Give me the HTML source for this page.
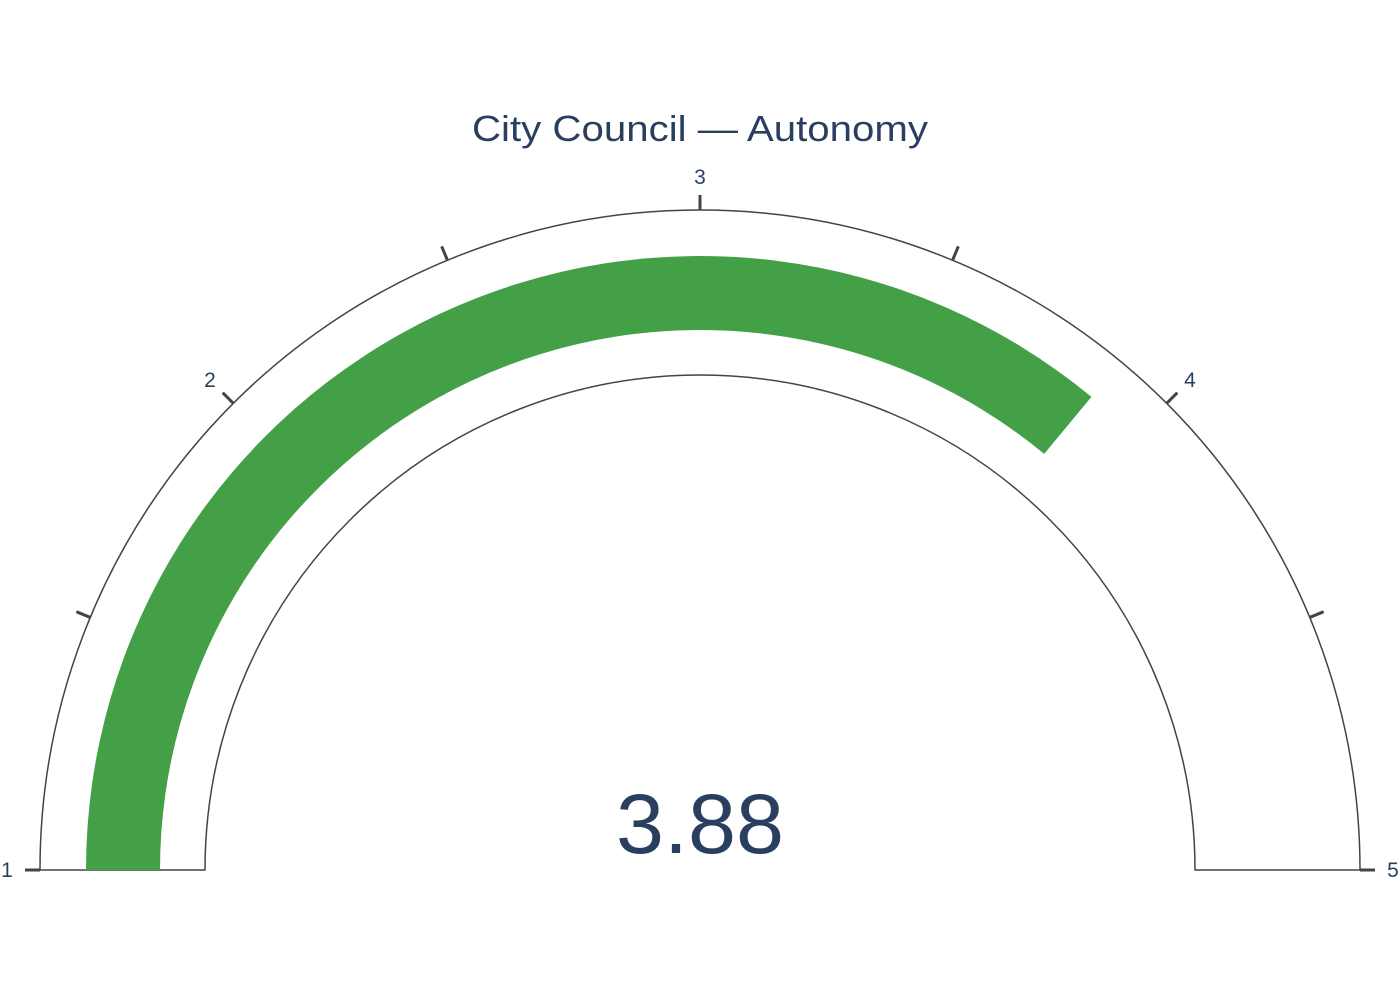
<!DOCTYPE html>
<html><head><meta charset="utf-8"><style>
html,body{margin:0;padding:0;background:#fff;}
svg{display:block;font-family:"Liberation Sans",sans-serif;}
</style></head><body>
<svg id="chart" width="1400" height="1000">
<text x="700" y="141" text-anchor="middle" font-size="36" fill="#2a3f5f" textLength="456" lengthAdjust="spacingAndGlyphs">City Council — Autonomy</text>
<g id="gauge"></g>
</svg>
<script>
const rangeMin = 1, rangeMax = 5;
const gaugeValue = [3.88];
const tickValues = [1, 1.5, 2, 2.5, 3, 3.5, 4, 4.5, 5];
const tickLabels = ["1", "", "2", "", "3", "", "4", "", "5"];
const valueLabel = ["3.88"];

const NS = "http://www.w3.org/2000/svg";
const cx = 700, cy = 870, rOut = 660, rIn = 495, bOut = 614, bIn = 540;
const g = document.getElementById('gauge');
function ang(v){ return Math.PI * (1 - (v - rangeMin) / (rangeMax - rangeMin)); }
function pt(r, a){ return [cx + r*Math.cos(a), cy - r*Math.sin(a)]; }
function band(r1, r2, v0, v1){
  const a0 = ang(v0), a1 = ang(v1);
  const p1 = pt(r2,a0), p2 = pt(r2,a1), p3 = pt(r1,a1), p4 = pt(r1,a0);
  return `M${p1} A${r2},${r2} 0 0 1 ${p2} L${p3} A${r1},${r1} 0 0 0 ${p4} Z`;
}
function mk(tag, attrs){ const e = document.createElementNS(NS, tag); for (const k in attrs) e.setAttribute(k, attrs[k]); g.appendChild(e); return e; }

const bg = mk('path', {d: band(rIn, rOut, rangeMin, rangeMax), fill:'#fff', stroke:'#444', 'stroke-width':1.5});



const bar = mk('path', {d: band(bIn, bOut, rangeMin, gaugeValue[0]), fill:'#43a047'});



tickValues.forEach((v, i) => {
  const a = ang(v);
  const p0 = pt(rOut, a), p1 = pt(rOut + 15, a);
  const t = mk('line', {x1:p0[0], y1:p0[1], x2:p1[0], y2:p1[1], stroke:'#444', 'stroke-width':3});
  
  
  if (tickLabels[i]) {
    const lp = pt(rOut + 33, a);
    const tx = mk('text', {x: lp[0], y: lp[1] + 7, 'text-anchor':'middle', 'font-size':21, fill:'#2a3f5f'});
    tx.textContent = tickLabels[i];
    
    
  }
});

const num = mk('text', {x: cx, y: 853, 'text-anchor':'middle', 'font-size':84, fill:'#2a3f5f', textLength:168, lengthAdjust:'spacingAndGlyphs'});
num.textContent = valueLabel[0];


</script>
</body></html>
